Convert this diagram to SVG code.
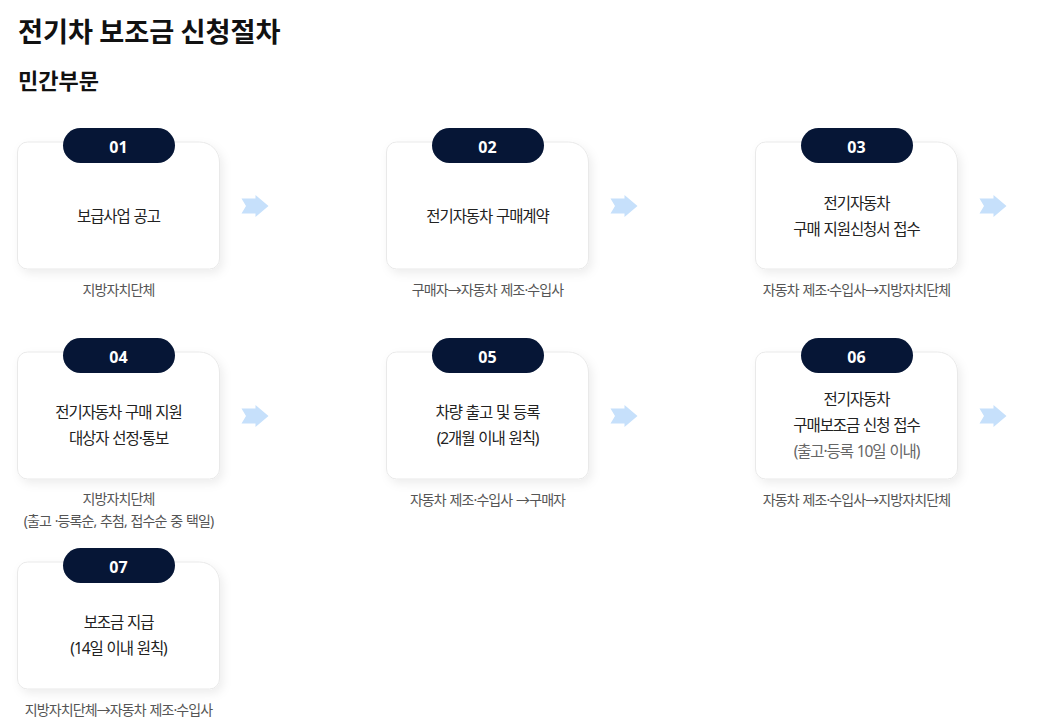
<svg xmlns="http://www.w3.org/2000/svg" xmlns:xlink="http://www.w3.org/1999/xlink" width="1046" height="728" viewBox="0 0 1046 728">
<style>
.title{font-family:"Noto Sans CJK KR","Noto Sans",sans-serif;font-weight:700;fill:#111;}
.card{fill:#fff;stroke:#e9e9e9;stroke-width:1;filter:url(#sh);}
.pill{fill:#061636;}
.num{font-family:"Noto Sans","Noto Sans CJK KR",sans-serif;font-weight:700;font-size:16px;fill:#fff;text-anchor:middle;dominant-baseline:central;}
.body{font-family:"Noto Sans","Noto Sans CJK KR",sans-serif;font-size:15.5px;letter-spacing:-1.1px;word-spacing:1px;fill:#222;text-anchor:middle;dominant-baseline:central;}
.gray{fill:#666;}
.sub{font-family:"Noto Sans","Noto Sans CJK KR",sans-serif;font-size:14px;letter-spacing:-0.9px;word-spacing:1px;fill:#555;text-anchor:middle;dominant-baseline:central;}
.arr{fill:#c6e0fb;}
</style>
<defs>
<filter id="sh" x="-10%" y="-10%" width="130%" height="130%">
<feDropShadow dx="3" dy="4" stdDeviation="5" flood-color="#000" flood-opacity="0.07"/>
</filter>
<path id="cardShape" d="M10,0 H182 A20,20 0 0 1 202,20 V117 A10,10 0 0 1 192,127 H10 A10,10 0 0 1 0,117 V10 A10,10 0 0 1 10,0 Z"/>
<polygon id="arrowShape" points="0,-7.5 14,-7.5 14,-11 27,0 14,11 14,7.5 0,7.5 4.5,0"/>
</defs>
<rect width="1046" height="728" fill="#fff"/>
<text class="title" x="18" y="30" font-size="27.2" dominant-baseline="central">전기차 보조금 신청절차</text>
<text class="title" x="18" y="79" font-size="22" dominant-baseline="central">민간부문</text>

<g id="connectors">
<use xlink:href="#arrowShape" class="arr" x="241.5" y="206"/>
<use xlink:href="#arrowShape" class="arr" x="610.5" y="206"/>
<use xlink:href="#arrowShape" class="arr" x="979.5" y="206"/>
<use xlink:href="#arrowShape" class="arr" x="241.5" y="416"/>
<use xlink:href="#arrowShape" class="arr" x="610.5" y="416"/>
<use xlink:href="#arrowShape" class="arr" x="979.5" y="416"/>
</g>

<g id="step01">
<use xlink:href="#cardShape" class="card" x="17.5" y="142"/>
<rect class="pill" x="63" y="128" width="112" height="35" rx="17.5"/>
<text class="num" x="118.5" y="147">01</text>
<text class="body" x="118.5" y="215.5">보급사업 공고</text>
<text class="sub" x="118.5" y="289">지방자치단체</text>
</g>

<g id="step02">
<use xlink:href="#cardShape" class="card" x="386.5" y="142"/>
<rect class="pill" x="432" y="128" width="112" height="35" rx="17.5"/>
<text class="num" x="487.5" y="147">02</text>
<text class="body" x="487.5" y="215.5">전기자동차 구매계약</text>
<text class="sub" x="487.5" y="289">구매자→자동차 제조·수입사</text>
</g>

<g id="step03">
<use xlink:href="#cardShape" class="card" x="755.5" y="142"/>
<rect class="pill" x="801" y="128" width="112" height="35" rx="17.5"/>
<text class="num" x="856.5" y="147">03</text>
<text class="body" x="856.5" y="202.5">전기자동차</text>
<text class="body" x="856.5" y="228.5">구매 지원신청서 접수</text>
<text class="sub" x="856.5" y="289">자동차 제조·수입사→지방자치단체</text>
</g>

<g id="step04">
<use xlink:href="#cardShape" class="card" x="17.5" y="352"/>
<rect class="pill" x="63" y="338" width="112" height="35" rx="17.5"/>
<text class="num" x="118.5" y="357">04</text>
<text class="body" x="118.5" y="412">전기자동차 구매 지원</text>
<text class="body" x="118.5" y="438">대상자 선정·통보</text>
<text class="sub" x="118.5" y="498">지방자치단체</text>
<text class="sub" x="118.5" y="520">(출고 ·등록순, 추첨, 접수순 중 택일)</text>
</g>

<g id="step05">
<use xlink:href="#cardShape" class="card" x="386.5" y="352"/>
<rect class="pill" x="432" y="338" width="112" height="35" rx="17.5"/>
<text class="num" x="487.5" y="357">05</text>
<text class="body" x="487.5" y="412">차량 출고 및 등록</text>
<text class="body" x="487.5" y="438">(2개월 이내 원칙)</text>
<text class="sub" x="487.5" y="499">자동차 제조·수입사 →구매자</text>
</g>

<g id="step06">
<use xlink:href="#cardShape" class="card" x="755.5" y="352"/>
<rect class="pill" x="801" y="338" width="112" height="35" rx="17.5"/>
<text class="num" x="856.5" y="357">06</text>
<text class="body" x="856.5" y="398.5">전기자동차</text>
<text class="body" x="856.5" y="425">구매보조금 신청 접수</text>
<text class="body gray" x="856.5" y="450.5">(출고·등록 10일 이내)</text>
<text class="sub" x="856.5" y="499">자동차 제조·수입사→지방자치단체</text>
</g>

<g id="step07">
<use xlink:href="#cardShape" class="card" x="17.5" y="562"/>
<rect class="pill" x="63" y="548" width="112" height="35" rx="17.5"/>
<text class="num" x="118.5" y="567">07</text>
<text class="body" x="118.5" y="622">보조금 지급</text>
<text class="body" x="118.5" y="648">(14일 이내 원칙)</text>
<text class="sub" x="118.5" y="709">지방자치단체→자동차 제조·수입사</text>
</g>
</svg>
